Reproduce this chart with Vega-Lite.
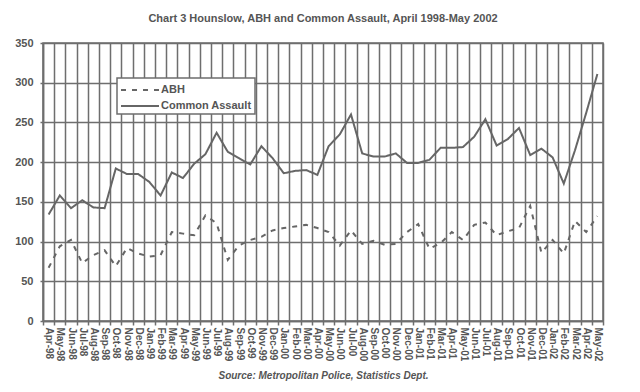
{
  "$schema": "https://vega.github.io/schema/vega-lite/v6.json",
  "width": 560,
  "height": 278,
  "autosize": "none",
  "padding": {"left": 43, "top": 43, "right": 37, "bottom": 71},
  "background": "white",
  "title": {
    "text": "Chart 3 Hounslow, ABH and Common Assault, April 1998-May 2002",
    "fontSize": 11, "fontWeight": "bold", "font": "Liberation Sans", "color": "#555555",
    "offset": 13, "anchor": "middle"
  },
  "datasets": {
    "raw": [
      {"month":"Apr-98","ABH":67,"CA":134},{"month":"May-98","ABH":94,"CA":158},{"month":"Jun-98","ABH":102,"CA":142},
      {"month":"Jul-98","ABH":73,"CA":152},{"month":"Aug-98","ABH":83,"CA":143},{"month":"Sep-98","ABH":89,"CA":142},
      {"month":"Oct-98","ABH":69,"CA":192},{"month":"Nov-98","ABH":92,"CA":185},{"month":"Dec-98","ABH":85,"CA":185},
      {"month":"Jan-99","ABH":81,"CA":175},{"month":"Feb-99","ABH":83,"CA":158},{"month":"Mar-99","ABH":112,"CA":187},
      {"month":"Apr-99","ABH":110,"CA":180},{"month":"May-99","ABH":108,"CA":198},{"month":"Jun-99","ABH":133,"CA":210},
      {"month":"Jul-99","ABH":123,"CA":237},{"month":"Aug-99","ABH":77,"CA":213},{"month":"Sep-99","ABH":95,"CA":205},
      {"month":"Oct-99","ABH":102,"CA":197},{"month":"Nov-99","ABH":106,"CA":220},{"month":"Dec-99","ABH":114,"CA":205},
      {"month":"Jan-00","ABH":117,"CA":186},{"month":"Feb-00","ABH":119,"CA":189},{"month":"Mar-00","ABH":121,"CA":190},
      {"month":"Apr-00","ABH":117,"CA":184},{"month":"May-00","ABH":112,"CA":220},{"month":"Jun-00","ABH":95,"CA":235},
      {"month":"Jul-00","ABH":114,"CA":260},{"month":"Aug-00","ABH":97,"CA":211},{"month":"Sep-00","ABH":101,"CA":207},
      {"month":"Oct-00","ABH":96,"CA":207},{"month":"Nov-00","ABH":97,"CA":211},{"month":"Dec-00","ABH":112,"CA":199},
      {"month":"Jan-01","ABH":122,"CA":199},{"month":"Feb-01","ABH":91,"CA":203},{"month":"Mar-01","ABH":98,"CA":218},
      {"month":"Apr-01","ABH":112,"CA":218},{"month":"May-01","ABH":102,"CA":219},{"month":"Jun-01","ABH":121,"CA":232},
      {"month":"Jul-01","ABH":124,"CA":254},{"month":"Aug-01","ABH":108,"CA":221},{"month":"Sep-01","ABH":113,"CA":229},
      {"month":"Oct-01","ABH":117,"CA":243},{"month":"Nov-01","ABH":145,"CA":209},{"month":"Dec-01","ABH":86,"CA":217},
      {"month":"Jan-02","ABH":102,"CA":206},{"month":"Feb-02","ABH":85,"CA":173},{"month":"Mar-02","ABH":126,"CA":215},
      {"month":"Apr-02","ABH":112,"CA":262},{"month":"May-02","ABH":132,"CA":311}
    ]
  },
  "data": {"name": "raw"},
  "transform": [
    {"fold": ["ABH", "CA"], "as": ["key", "value"]},
    {"lookup": "key", "from": {"data": {"values": [{"key": "ABH", "series": "ABH"}, {"key": "CA", "series": "Common Assault"}]}, "key": "key", "fields": ["series"]}}
  ],
  "mark": {"type": "line", "strokeWidth": 2},
  "encoding": {
    "x": {
      "field": "month", "type": "ordinal", "sort": null, "bandPosition": 0.5,
      "scale": {"type": "band", "paddingInner": 0, "paddingOuter": 0},
      "axis": {
        "title": "Source: Metropolitan Police, Statistics Dept.",
        "labelAngle": 90, "labelFontSize": 10, "labelFontWeight": "bold",
        "tickBand": "extent", "tickSize": 4, "labelPadding": 2,
        "grid": true, "labelBound": false, "labelOverlap": false,
        "titleFontSize": 10, "titleFontWeight": "bold", "titleFontStyle": "italic",
        "titleY": 57, "titleBaseline": "alphabetic", "titleAnchor": "middle"
      }
    },
    "y": {
      "field": "value", "type": "quantitative",
      "scale": {"domain": [0, 350], "nice": false},
      "axis": {
        "title": null, "values": [0, 50, 100, 150, 200, 250, 300, 350],
        "labelFontSize": 11, "labelFontWeight": "bold", "tickSize": 3, "labelPadding": 7, "grid": true
      }
    },
    "color": {
      "field": "series", "type": "nominal",
      "scale": {"range": ["#666666", "#666666"]},
      "legend": {"title": null}
    },
    "strokeDash": {
      "field": "series", "type": "nominal",
      "scale": {"range": [[5, 6], [1, 0]]},
      "legend": {"title": null}
    }
  },
  "config": {
    "font": "Liberation Sans",
    "view": {"stroke": "#6e6e6e", "strokeWidth": 1.5},
    "axis": {
      "domainColor": "#6e6e6e", "domainWidth": 1.5, "tickColor": "#6e6e6e", "tickWidth": 1.5,
      "gridColor": "#6e6e6e", "gridWidth": 1.5, "gridOpacity": 1,
      "labelColor": "#555555", "titleColor": "#555555", "labelFont": "Liberation Sans", "titleFont": "Liberation Sans"
    },
    "legend": {
      "orient": "none", "legendX": 74, "legendY": 35,
      "fillColor": "white", "strokeColor": "#6e6e6e", "strokeWidth": 1.5, "padding": 3,
      "symbolType": "M-1,0H3.75", "symbolSize": 256, "symbolStrokeWidth": 2,
      "labelFontSize": 11, "labelFontWeight": "bold", "labelColor": "#555555", "labelFont": "Liberation Sans",
      "labelOffset": 23, "rowPadding": 2
    }
  }
}
